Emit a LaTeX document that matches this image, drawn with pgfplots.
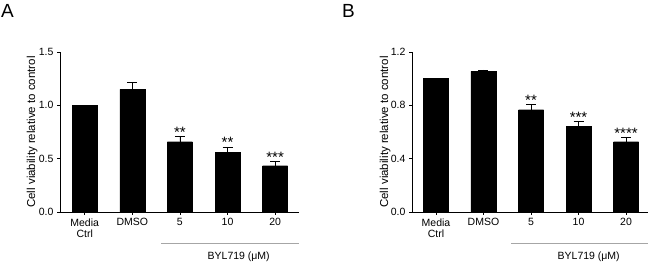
\documentclass[border=0pt]{standalone}
\usepackage{fontspec}
\setmainfont{Liberation Sans}
\usepackage{pgfplots}
\pgfplotsset{compat=1.18}
\tikzset{sigstar/.style={font=\fontsize{15}{15}\selectfont, anchor=base, inner sep=0, yshift=-1pt}}
\begin{document}
\begin{tikzpicture}
\useasboundingbox (0pt,0pt) rectangle (650pt,264pt);
\pgfplotsset{
  myaxis/.style={
    scale only axis, height=160pt, anchor=south west,
    axis x line*=bottom, axis y line*=left,
    ymin=0, clip=false,
    xtick={0,1,2,3,4}, xticklabels={{Media\\Ctrl},DMSO,5,10,20},
    xticklabel style={align=center, font=\fontsize{10.5}{11.5}\selectfont},
    yticklabel style={font=\fontsize{10.5}{11}\selectfont, /pgf/number format/fixed, /pgf/number format/fixed zerofill, /pgf/number format/precision=1},
    /pgf/number format/assume math mode=true,
    tick align=outside, major tick length=3pt,
    tick style={black, line width=0.8pt},
    axis line style={black, line width=0.8pt},
    ylabel={Cell viability relative to control},
  },
  mybars/.style={ybar, bar width=25pt, fill=black, draw=black,
    error bars/.cd, y dir=plus, y explicit,
    error bar style={line width=0.8pt, black},
    error mark options={rotate=90, mark size=5pt, line width=0.8pt, black}},
}
\begin{axis}[myaxis, at={(60pt,52pt)}, width=239pt, xmin=-0.519, xmax=4.502,
  ymax=1.5, ytick={0,0.5,1.0,1.5},
  ylabel style={font=\fontsize{11.5}{12}\selectfont, at={(axis description cs:-0.117,0.5)}, anchor=center}]
\addplot[mybars] coordinates {
  (0,1.0) +- (0,0)
  (1,1.15) +- (0,0.066)
  (2,0.659) +- (0,0.051)
  (3,0.56) +- (0,0.05)
  (4,0.434) +- (0,0.041)
};
\node[sigstar] at (axis cs:2,0.710) {**};
\node[sigstar] at (axis cs:3,0.610) {**};
\node[sigstar] at (axis cs:4,0.475) {***};
\end{axis}
\begin{axis}[myaxis, at={(412pt,52pt)}, width=236pt, xmin=-0.505, xmax=4.463,
  ymax=1.2, ytick={0,0.4,0.8,1.2},
  ylabel style={font=\fontsize{11.5}{12}\selectfont, at={(axis description cs:-0.114,0.5)}, anchor=center}]
\addplot[mybars] coordinates {
  (0,1.0) +- (0,0)
  (1,1.055) +- (0,0.01)
  (2,0.767) +- (0,0.041)
  (3,0.64) +- (0,0.037)
  (4,0.527) +- (0,0.033)
};
\node[sigstar] at (axis cs:2,0.808) {**};
\node[sigstar] at (axis cs:3,0.677) {***};
\node[sigstar] at (axis cs:4,0.560) {****};
\end{axis}
\node[anchor=base west, font=\fontsize{19}{19}\selectfont, inner sep=0] at (1pt,246.5pt) {A};
\node[anchor=base west, font=\fontsize{19}{19}\selectfont, inner sep=0] at (342pt,246.5pt) {B};
\draw[gray!70, line width=0.8pt] (161pt,21pt) -- (299pt,21pt);
\draw[gray!70, line width=0.8pt] (511pt,21pt) -- (648pt,21pt);
\node[font=\fontsize{10.5}{11}\selectfont] at (238.7pt,7pt) {BYL719 (μM)};
\node[font=\fontsize{10.5}{11}\selectfont] at (588.7pt,7pt) {BYL719 (μM)};
\end{tikzpicture}
\end{document}
